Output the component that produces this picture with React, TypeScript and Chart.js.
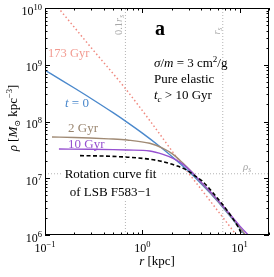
import React, { useEffect, useRef } from 'react';
import { Chart, registerables } from 'chart.js';
Chart.register(...registerables);

// ---- data ----
const rT0 = [0.1, 0.15, 0.2, 0.3, 0.5, 0.7, 1, 1.5, 2, 3, 4, 5, 7, 10, 12];
const rhoT0 = [8.0e8, 5.26e8, 3.89e8, 2.52e8, 1.43e8, 9.66e7, 6.24e7, 3.67e7, 2.44e7, 1.31e7, 8.08e6, 5.41e6, 2.82e6, 1.33e6, 8.8e5];

const r2 = [0.118, 0.2, 0.29, 0.45, 0.7, 1.19, 1.63, 2.07, 2.62, 3.2, 4, 5, 7, 10, 12];
const rho2 = [5.33e7, 5.22e7, 5.12e7, 4.95e7, 4.72e7, 4.13e7, 3.37e7, 2.64e7, 1.83e7, 1.3e7, 8.4e6, 5.6e6, 2.9e6, 1.36e6, 9.0e5];

const r10 = [0.139, 0.29, 0.5, 0.7, 1.19, 1.63, 2.07, 2.62, 3.2, 4, 5, 7, 10, 13];
const rho10 = [3.27e7, 3.24e7, 3.2e7, 3.15e7, 3.02e7, 2.64e7, 2.25e7, 1.76e7, 1.3e7, 8.6e6, 5.8e6, 3.0e6, 1.45e6, 9.0e5];

const rFit = [0.229, 0.4, 0.63, 0.745, 1.19, 1.63, 2.24, 2.84, 3.59, 4.1, 5.55, 7.59, 9.6, 10.4];
const rhoFit = [2.5e7, 2.46e7, 2.38e7, 2.34e7, 2.16e7, 1.96e7, 1.66e7, 1.4e7, 1.06e7, 9.0e6, 5.07e6, 2.57e6, 1.4e6, 1.07e6];

const r173 = [0.12, 0.137, 0.3, 0.662, 1.29, 2.43, 4, 6, 9.25, 10];
const rho173 = [1.3e10, 1.0e10, 1.97e9, 3.9e8, 8.67e7, 1.96e7, 6.46e6, 2.62e6, 1.0e6, 8.4e5];

const rS = 6.7; // scale radius [kpc]
const rhoS = 1.2e7; // scale density
const xRange = [0.1, 20];
const yRange = [1e6, 1e10];
const xDecades = [-1, 0, 1];
const yDecades = [6, 7, 8, 9, 10];

const FAM = "'Liberation Serif', 'DejaVu Serif', serif";

type Seg = { t: string; size: number; style?: string; dy?: number };

function segFont(s: Seg) {
  return `${s.style || ''} ${s.size}px ${FAM}`;
}
function richWidth(ctx: CanvasRenderingContext2D, segs: Seg[]) {
  let w = 0;
  for (const s of segs) {
    ctx.font = segFont(s);
    w += ctx.measureText(s.t).width;
  }
  return w;
}
function drawRich(ctx: CanvasRenderingContext2D, segs: Seg[], x: number, y: number, align: 'left' | 'center' | 'right' = 'left') {
  const w = richWidth(ctx, segs);
  let cx = align === 'center' ? x - w / 2 : align === 'right' ? x - w : x;
  ctx.textAlign = 'left';
  ctx.textBaseline = 'alphabetic';
  for (const s of segs) {
    ctx.font = segFont(s);
    ctx.fillText(s.t, cx, y + (s.dy || 0));
    cx += ctx.measureText(s.t).width;
  }
  return w;
}

const supMap: Record<string, string> = { '-': '\u2212' };
function expText(k: number) {
  return String(k).split('').map((c) => supMap[c] || c).join('');
}

const decor = {
  id: 'decor',
  afterDatasetsDraw(chart: any) {
    const ctx: CanvasRenderingContext2D = chart.ctx;
    const { left, right, top, bottom } = chart.chartArea;
    const xs = chart.scales.x;
    const ys = chart.scales.y;
    ctx.save();

    // white box behind the fit annotation
    ctx.fillStyle = '#ffffff';
    ctx.fillRect(61, 164, 101, 36);

    // frame
    ctx.strokeStyle = '#000';
    ctx.lineWidth = 1;
    ctx.strokeRect(Math.round(left) + 0.5, Math.round(top) + 0.5, Math.round(right - left) - 1, Math.round(bottom - top) - 1);

    // ticks
    const tick = (p: number, axis: 'x' | 'y', len: number) => {
      ctx.beginPath();
      if (axis === 'x') {
        const px = Math.round(p) + 0.5;
        ctx.moveTo(px, bottom); ctx.lineTo(px, bottom - len);
        ctx.moveTo(px, top); ctx.lineTo(px, top + len);
      } else {
        const py = Math.round(p) + 0.5;
        ctx.moveTo(left, py); ctx.lineTo(left + len, py);
        ctx.moveTo(right, py); ctx.lineTo(right - len, py);
      }
      ctx.stroke();
    };
    for (let k = -1; k <= 1; k++) {
      for (let m = 1; m <= 9; m++) {
        const v = m * Math.pow(10, k);
        if (v < xRange[0] || v > xRange[1]) continue;
        tick(xs.getPixelForValue(v), 'x', m === 1 ? 5 : 2.5);
      }
    }
    for (let k = 6; k <= 10; k++) {
      for (let m = 1; m <= 9; m++) {
        const v = m * Math.pow(10, k);
        if (v < yRange[0] || v > yRange[1]) continue;
        tick(ys.getPixelForValue(v), 'y', m === 1 ? 5 : 2.5);
      }
    }

    // tick labels
    ctx.fillStyle = '#000';
    for (const k of xDecades) {
      const px = xs.getPixelForValue(Math.pow(10, k));
      drawRich(ctx, [{ t: '10', size: 12 }, { t: expText(k), size: 8.5, dy: -5 }], px, 252, 'center');
    }
    for (const k of yDecades) {
      const py = ys.getPixelForValue(Math.pow(10, k));
      drawRich(ctx, [{ t: '10', size: 12 }, { t: expText(k), size: 8.5, dy: -5 }], left - 3, py + 6.5, 'right');
    }

    // axis titles
    drawRich(ctx, [{ t: 'r', size: 13, style: 'italic' }, { t: ' [kpc]', size: 13 }], (left + right) / 2, 265, 'center');
    ctx.save();
    ctx.translate(17, 118);
    ctx.rotate(-Math.PI / 2);
    drawRich(ctx, [
      { t: '\u03C1', size: 13, style: 'italic' },
      { t: ' [', size: 13 },
      { t: 'M', size: 13, style: 'italic' },
      { t: '\u2299', size: 8, dy: 2.5 },
      { t: ' kpc', size: 13 },
      { t: '\u22123', size: 8.5, dy: -5 },
      { t: ']', size: 13 },
    ], 0, 0, 'center');
    ctx.restore();

    // reference-line labels
    ctx.fillStyle = '#a8a8a8';
    ctx.save();
    ctx.translate(xs.getPixelForValue(rS / 10) - 3, 25);
    ctx.rotate(-Math.PI / 2);
    drawRich(ctx, [{ t: '0.1', size: 10.5 }, { t: 'r', size: 10.5, style: 'italic' }, { t: 's', size: 7.5, style: 'italic', dy: 2 }], 0, 0, 'center');
    ctx.restore();
    ctx.save();
    ctx.translate(xs.getPixelForValue(rS) - 3, 31);
    ctx.rotate(-Math.PI / 2);
    drawRich(ctx, [{ t: 'r', size: 10.5, style: 'italic' }, { t: 's', size: 7.5, style: 'italic', dy: 2 }], 0, 0, 'center');
    ctx.restore();
    drawRich(ctx, [{ t: '\u03C1', size: 11, style: 'italic' }, { t: 's', size: 7.5, style: 'italic', dy: 2 }], 243, ys.getPixelForValue(rhoS) - 4, 'left');

    // panel text
    ctx.fillStyle = '#000';
    drawRich(ctx, [{ t: 'a', size: 20, style: 'bold' }], 155, 35);
    drawRich(ctx, [
      { t: '\u03C3', size: 13, style: 'italic' },
      { t: '/', size: 13 },
      { t: 'm', size: 13, style: 'italic' },
      { t: ' = 3 cm', size: 13 },
      { t: '2', size: 9, dy: -5 },
      { t: '/g', size: 13 },
    ], 154, 67);
    drawRich(ctx, [{ t: 'Pure elastic', size: 13 }], 154, 83);
    drawRich(ctx, [
      { t: 't', size: 13, style: 'italic' },
      { t: 'c', size: 9, style: 'italic', dy: 2.5 },
      { t: ' > 10 Gyr', size: 13 },
    ], 154, 99);

    // curve labels
    ctx.fillStyle = '#f29a90';
    drawRich(ctx, [{ t: '173 Gyr', size: 12.5 }], 48, 57);
    ctx.fillStyle = '#4a88cc';
    drawRich(ctx, [{ t: 't', size: 13, style: 'italic' }, { t: ' = 0', size: 13 }], 65, 107);
    ctx.fillStyle = '#9a8670';
    drawRich(ctx, [{ t: '2 Gyr', size: 13 }], 68, 132);
    ctx.fillStyle = '#9650d0';
    drawRich(ctx, [{ t: '10 Gyr', size: 13 }], 68, 147.5);
    ctx.fillStyle = '#000';
    drawRich(ctx, [{ t: 'Rotation curve fit', size: 13 }], 110.5, 178, 'center');
    drawRich(ctx, [{ t: 'of LSB F583\u22121', size: 13 }], 110.5, 196, 'center');

    ctx.restore();
  },
};

function pts(xs: number[], ys: number[]) {
  return xs.map((x, i) => ({ x, y: ys[i] }));
}

export default function App() {
  const ref = useRef<HTMLCanvasElement>(null);
  useEffect(() => {
    if (!ref.current) return;
    const grey = '#b4b4b4';
    const chart = new Chart(ref.current, {
      type: 'line',
      data: {
        datasets: [
          { label: 'fit', data: pts(rFit, rhoFit), borderColor: '#000', borderWidth: 1.6, borderDash: [4, 2.5], cubicInterpolationMode: 'monotone', order: 0 } as any,
          { label: '10 Gyr', data: pts(r10, rho10), borderColor: '#9650d0', borderWidth: 1.4, cubicInterpolationMode: 'monotone', order: 1 } as any,
          { label: '2 Gyr', data: pts(r2, rho2), borderColor: '#a08a74', borderWidth: 1.4, cubicInterpolationMode: 'monotone', order: 2 } as any,
          { label: 't=0', data: pts(rT0, rhoT0), borderColor: '#4a88cc', borderWidth: 1.4, cubicInterpolationMode: 'monotone', order: 3 } as any,
          { label: '173 Gyr', data: pts(r173, rho173), borderColor: '#f08a80', borderWidth: 1.5, borderDash: [1.5, 2.5], cubicInterpolationMode: 'monotone', order: 4 } as any,
          { label: '0.1rs', data: [{ x: rS / 10, y: yRange[0] }, { x: rS / 10, y: yRange[1] }], borderColor: grey, borderWidth: 1, borderDash: [1, 2], tension: 0, order: 10 } as any,
          { label: 'rs', data: [{ x: rS, y: yRange[0] }, { x: rS, y: yRange[1] }], borderColor: grey, borderWidth: 1, borderDash: [1, 2], tension: 0, order: 10 } as any,
          { label: 'rhos', data: [{ x: xRange[0], y: rhoS }, { x: xRange[1], y: rhoS }], borderColor: grey, borderWidth: 1, borderDash: [1, 2], tension: 0, order: 10 } as any,
        ],
      },
      options: {
        animation: false,
        responsive: false,
        devicePixelRatio: 1,
        parsing: false,
        normalized: true,
        layout: { padding: { left: 45, right: 5, top: 8, bottom: 42 } },
        plugins: { legend: { display: false }, tooltip: { enabled: false } },
        elements: { point: { radius: 0 } },
        scales: {
          x: { type: 'logarithmic', min: xRange[0], max: xRange[1], display: false },
          y: { type: 'logarithmic', min: yRange[0], max: yRange[1], display: false },
        },
      } as any,
      plugins: [decor],
    });
    return () => chart.destroy();
  }, []);
  return (
    <div style={{ position: 'fixed', left: 0, top: 0, width: 274, height: 277, background: '#fff' }}>
      <canvas ref={ref} width={274} height={277} style={{ width: 274, height: 277, display: 'block' }} />
    </div>
  );
}
